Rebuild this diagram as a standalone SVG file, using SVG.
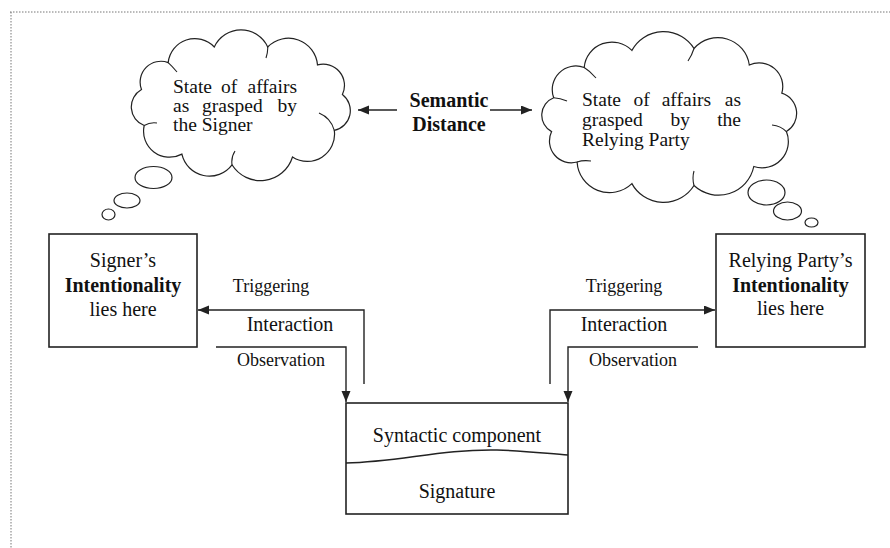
<svg xmlns="http://www.w3.org/2000/svg" width="890" height="548" viewBox="0 0 890 548">
<defs>
<marker id="ah" markerUnits="userSpaceOnUse" markerWidth="12" markerHeight="10" refX="11" refY="4.5" orient="auto">
<path d="M0,0 L11,4.5 L0,9 z" fill="#222"/>
</marker>
<style>
.ln{fill:none;stroke:#222;stroke-width:1.4}
.bx{fill:#fff;stroke:#222;stroke-width:1.6}
.cl{fill:#fff;stroke:#222;stroke-width:1.2}
.in{fill:none;stroke:#222;stroke-width:1.1}
.t{font-family:"Liberation Serif","Times New Roman",serif;font-size:20px;fill:#111}
.ct{font-family:"Liberation Serif","Times New Roman",serif;font-size:19.5px;fill:#111}
.s{font-family:"Liberation Serif","Times New Roman",serif;font-size:18px;fill:#111}
.b{font-weight:bold}
.c{text-anchor:middle}
</style>
</defs>
<rect width="890" height="548" fill="#fff"/>
<g id="frame">
<path d="M10,12 H890 M11,12 V548" fill="none" stroke="#777" stroke-width="1" stroke-dasharray="1.5,1.5"/>
</g>
<g id="cloud-signer">
<path class="cl" d="M342.4,94.6 A20.2,20.2 0 0 1 334.3,130.4 A27.2,27.2 0 0 1 292.5,157 A33.5,33.5 0 0 1 232,164.8 A28.2,28.2 0 0 1 181.9,154.1 A26,26 0 0 1 144.2,125.5 A19.9,19.9 0 0 1 141.5,89.5 A20.8,20.8 0 0 1 168.2,62.6 A26.8,26.8 0 0 1 214.3,47 A29.4,29.4 0 0 1 267.7,47 A29.1,29.1 0 0 1 317.5,64.9 A21.3,21.3 0 0 1 342.4,94.6 Z"/>
<path class="in" d="M334.3,130.4 Q331,118 319,113 M232,164.8 Q231,157 235,151 M168.2,62.6 Q172,66 177,72 M267.7,47 Q268,52 266,58 M144.2,125.5 Q150,122 157,123"/>
<ellipse class="cl" cx="153.5" cy="177.5" rx="18.5" ry="11"/>
<ellipse class="cl" cx="127" cy="200.5" rx="13" ry="7.5"/>
<ellipse class="cl" cx="108.5" cy="214.5" rx="6.5" ry="5.5"/>
<text class="ct" y="92.5"><tspan x="173">State</tspan><tspan x="221">of</tspan><tspan x="297" text-anchor="end">affairs</tspan></text>
<text class="ct" y="111.5"><tspan x="173">as</tspan><tspan x="202">grasped</tspan><tspan x="297" text-anchor="end">by</tspan></text>
<text class="ct" x="173" y="130.5">the Signer</text>
</g>
<g id="cloud-relying">
<path class="cl" d="M781.8,93.1 A21.3,21.3 0 0 1 786.4,131.6 A26.3,26.3 0 0 1 753.8,166.5 A36,36 0 0 1 694,185.5 A36,36 0 0 1 631.9,183.6 A32.4,32.4 0 0 1 577.1,162 A21.8,21.8 0 0 1 551.6,131.6 A18.7,18.7 0 0 1 553.7,97.7 A23.6,23.6 0 0 1 584.2,67.5 A27.9,27.9 0 0 1 631.9,50.4 A36,36 0 0 1 694,48.5 A31.7,31.7 0 0 1 749.3,65 A23.6,23.6 0 0 1 781.8,93.1 Z"/>
<path class="in" d="M786.4,131.6 Q781,126 772,125 M694,185.5 Q692,178 694,171 M577.1,162 Q583,160 591,161 M584.2,67.5 Q590,71 596,78 M694,48.5 Q692,55 688,61 M553.7,97.7 Q560,98 567,101"/>
<ellipse class="cl" cx="766.5" cy="192.5" rx="18.5" ry="12.5"/>
<ellipse class="cl" cx="787.5" cy="211" rx="14" ry="9"/>
<ellipse class="cl" cx="811.5" cy="222.5" rx="6.5" ry="4.5"/>
<text class="ct" y="106"><tspan x="582">State</tspan><tspan x="633.5">of</tspan><tspan x="661.7">affairs</tspan><tspan x="741" text-anchor="end">as</tspan></text>
<text class="ct" y="126"><tspan x="582">grasped</tspan><tspan x="670.4">by</tspan><tspan x="741" text-anchor="end">the</tspan></text>
<text class="ct" x="582" y="146">Relying Party</text>
</g>
<g id="semantic-distance">
<text class="t b c" x="449" y="107">Semantic</text>
<text class="t b c" x="449" y="131">Distance</text>
</g>
<g id="signer-box">
<rect class="bx" x="49" y="234" width="148" height="113"/>
<text class="t c" x="123" y="267">Signer’s</text>
<text class="t b c" x="123" y="292">Intentionality</text>
<text class="t c" x="123" y="316">lies here</text>
</g>
<g id="relying-box">
<rect class="bx" x="716" y="234" width="149" height="113"/>
<text class="t c" x="790.5" y="267">Relying Party’s</text>
<text class="t b c" x="790.5" y="292">Intentionality</text>
<text class="t c" x="790.5" y="315">lies here</text>
</g>
<g id="syntactic-box">
<rect class="bx" x="346" y="403" width="222" height="111"/>
<path class="ln" d="M346,463 C400,462 440,449 497,450 C530,451 550,454 568,455"/>
<text class="t c" x="457" y="442">Syntactic component</text>
<text class="t c" x="457" y="498">Signature</text>
</g>
<g id="connectors">
<path class="ln" d="M397,110 H358" marker-end="url(#ah)"/>
<path class="ln" d="M490,110 H532" marker-end="url(#ah)"/>
<path class="ln" d="M364,384 V310 H198" marker-end="url(#ah)"/>
<path class="ln" d="M216,347 H346 V402" marker-end="url(#ah)"/>
<path class="ln" d="M550,384 V310 H715" marker-end="url(#ah)"/>
<path class="ln" d="M698,347 H568 V402" marker-end="url(#ah)"/>
</g>
<g id="labels">
<text class="s c" x="271" y="292">Triggering</text>
<text class="t c" x="290" y="331">Interaction</text>
<text class="s c" x="281" y="366">Observation</text>
<text class="s c" x="624" y="292">Triggering</text>
<text class="t c" x="624" y="331">Interaction</text>
<text class="s c" x="633" y="366">Observation</text>
</g>
</svg>
